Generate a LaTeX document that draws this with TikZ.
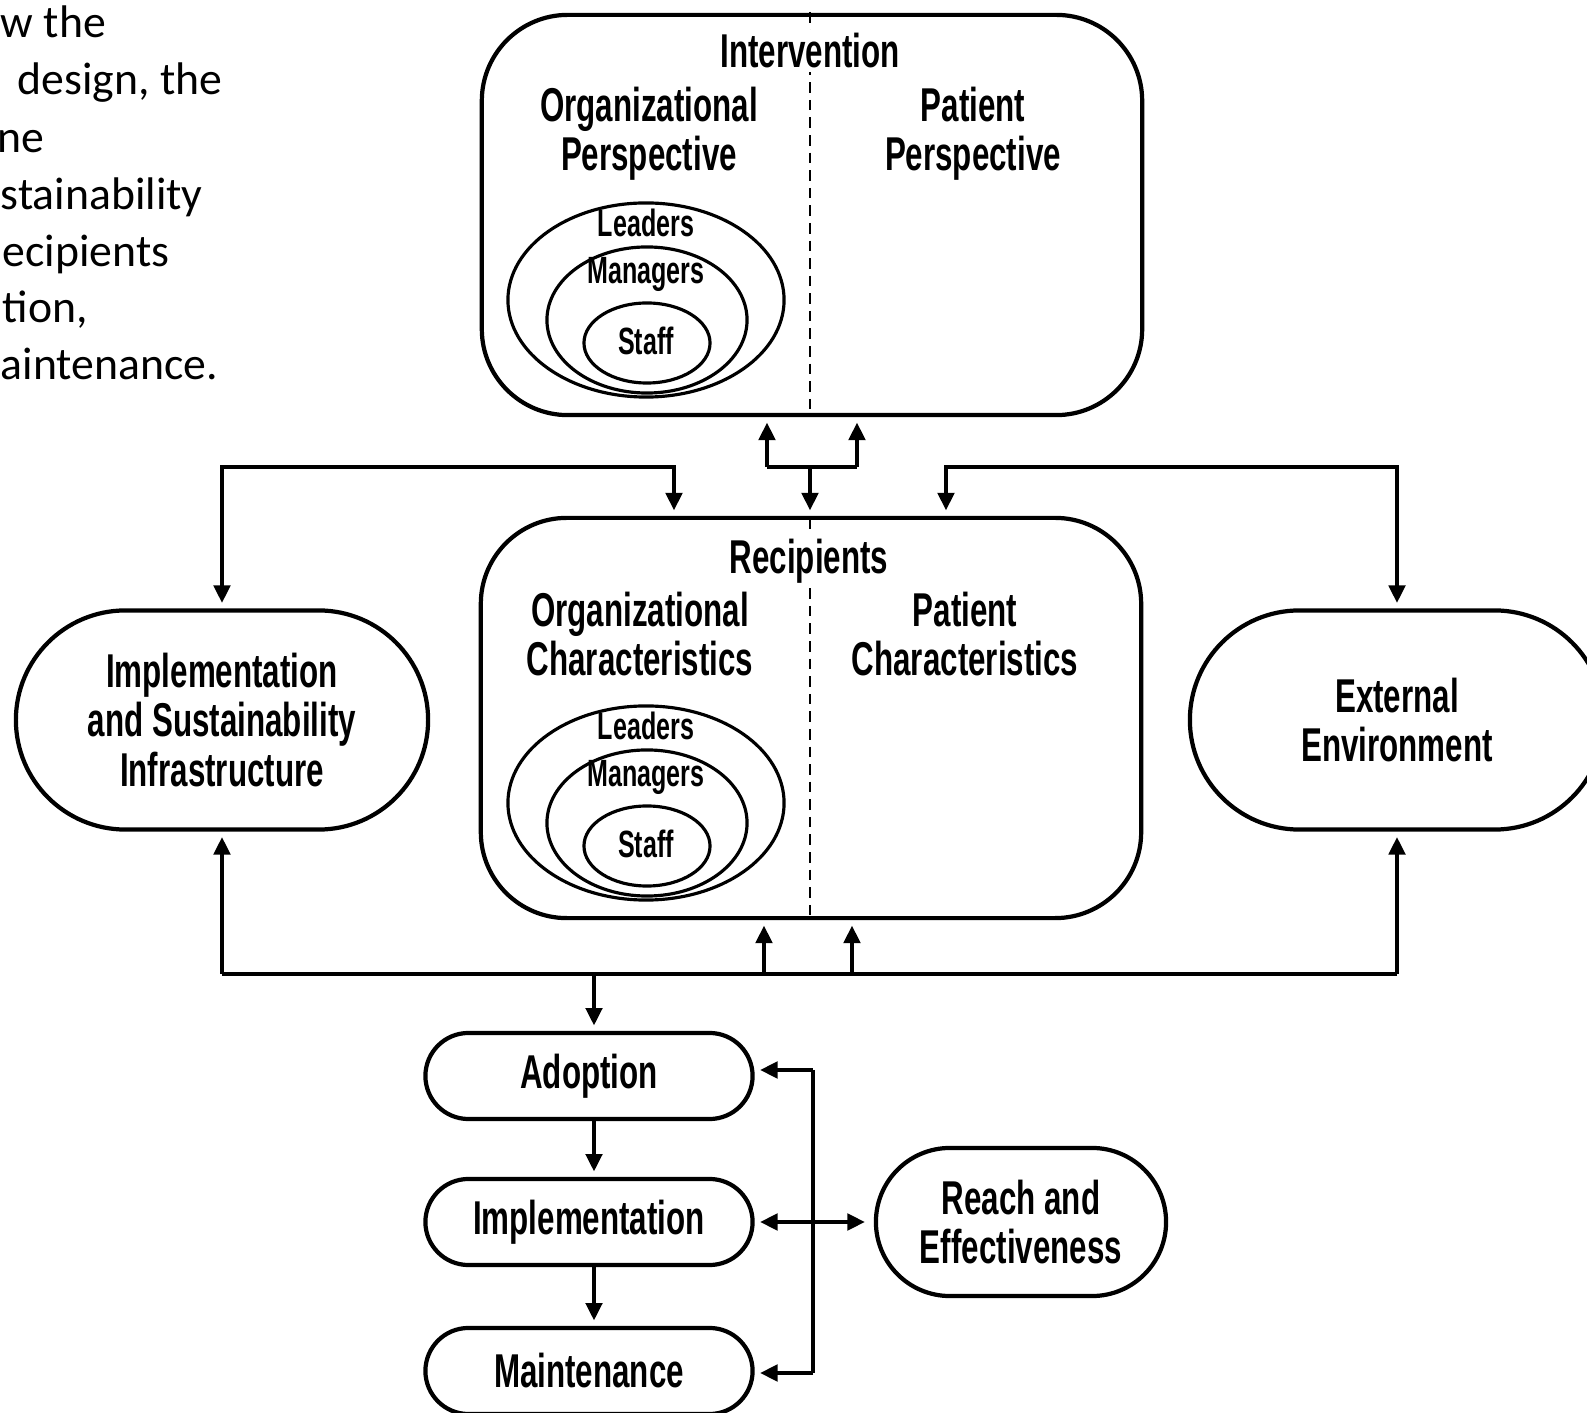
\documentclass[tikz,border=0pt]{standalone}
\usepackage{fontspec}
\newfontfamily\figfont[FakeStretch=0.66]{Liberation Sans}
\newfontfamily\notefont{Carlito}
\usetikzlibrary{shapes.geometric,shapes.misc,arrows.meta}

\newcommand{\bigtxt}{\figfont\bfseries\fontsize{13.5}{14}\selectfont}
\newcommand{\smalltxt}{\figfont\bfseries\fontsize{10.8}{11}\selectfont}

\tikzset{
  panel/.style={draw, line width=1.2pt, rounded corners=0.86cm, minimum width=6.6cm, minimum height=4cm},
  pill/.style={draw, line width=1.2pt, rounded rectangle, inner sep=0pt, align=center, font=\bigtxt},
  ring/.style={draw, ellipse, line width=0.9pt, inner sep=0pt},
  heading/.style={font=\bigtxt, align=center, inner sep=1pt},
  tag/.style={font=\smalltxt, inner sep=0pt},
  divider/.style={line width=0.7pt, dash pattern=on 3pt off 2pt},
  link/.style={line width=1.2pt},
  arr/.style={link, -{Triangle[length=5pt,width=4.6pt]}, shorten >=1.5pt},
  twoway/.style={link, {Triangle[length=5pt,width=4.6pt]}-{Triangle[length=5pt,width=4.6pt]}, shorten >=2.5pt, shorten <=1.5pt},
  note/.style={font=\notefont\fontsize{13}{15}\selectfont, anchor=base west, inner sep=0pt}
}

\begin{document}
\begin{tikzpicture}[x=0.01cm, y=-0.01cm]
\useasboundingbox (0,0) rectangle (1587,1413);
\clip (0,0) rectangle (1587,1413);

% Text cut off at the left
\node[note] (n1) at (0,38) {w the};
\node[note] (n2) at (17,95) {design, the};
\node[note] (n3) at (-3,153) {ne};
\node[note] (n4) at (0,210) {stainability};
\node[note] (n5) at (2,267) {ecipients};
\node[note] (n6) at (2,323) {tion,};
\node[note] (n7) at (0,380) {aintenance.};

% Intervention
\node[panel] (interv) at (812,215) {};
\draw[divider] (810,12) -- (810,415);
\node[heading, fill=white] (intervtitle) at (810,51) {Intervention};
\node[heading] (orgpersp) at (649,134) {Organizational\\Perspective};
\node[heading] (patpersp) at (973,134) {Patient\\Perspective};
\node[ring, minimum width=2.76cm, minimum height=1.94cm] (lead1) at (646,300) {};
\node[ring, minimum width=2cm, minimum height=1.46cm] (mgr1) at (647,320) {};
\node[ring, minimum width=1.26cm, minimum height=0.8cm] (staff1) at (647,343) {};
\node[tag] (leadtag1) at (646,223) {Leaders};
\node[tag] (mgrtag1) at (646,274) {Managers};
\node[tag] (stafftag1) at (646,341) {Staff};

% Recipients
\node[panel] (recip) at (811,718) {};
\draw[divider] (810,518) -- (810,921);
\node[heading, fill=white] (reciptitle) at (809,561) {Recipients};
\node[heading] (orgchar) at (640,634) {Organizational\\Characteristics};
\node[heading] (patchar) at (965,634) {Patient\\Characteristics};
\node[ring, minimum width=2.76cm, minimum height=1.94cm] (lead2) at (646,803) {};
\node[ring, minimum width=2cm, minimum height=1.46cm] (mgr2) at (647,823) {};
\node[ring, minimum width=1.26cm, minimum height=0.8cm] (staff2) at (647,846) {};
\node[tag] (leadtag2) at (646,726) {Leaders};
\node[tag] (mgrtag2) at (646,777) {Managers};
\node[tag] (stafftag2) at (646,844) {Staff};

% Side boxes
\node[pill, minimum width=4.12cm, minimum height=2.19cm] (infra) at (222,720) {Implementation\\and Sustainability\\Infrastructure};
\node[pill, minimum width=4.14cm, minimum height=2.19cm] (extenv) at (1397,720) {External\\Environment};

% RE-AIM boxes
\node[pill, minimum width=3.27cm, minimum height=0.86cm] (adopt) at (589,1076) {Adoption};
\node[pill, minimum width=3.27cm, minimum height=0.86cm] (impl) at (589,1222) {Implementation};
\node[pill, minimum width=3.27cm, minimum height=0.86cm] (maint) at (589,1371) {Maintenance};
\node[pill, minimum width=2.9cm, minimum height=1.48cm] (reach) at (1021,1222) {Reach and\\Effectiveness};

% Intervention <-> Recipients
\coordinate (jmid) at (810,467);
\coordinate (jl) at (767,467);
\coordinate (jr) at (857,467);
\draw[link] (jl) -- (jr);
\draw[arr] (jl) -- (jl |- interv.south);
\draw[arr] (jr) -- (jr |- interv.south);
\draw[arr] (jmid) -- (jmid |- recip.north);

% Upper connectors to the side boxes
\coordinate (ul) at (222,467);
\coordinate (ulin) at (674,467);
\coordinate (ur) at (1397,467);
\coordinate (urin) at (946,467);
\draw[arr] (ulin) -- (ul) -- (infra.north);
\draw[arr] (ul) -- (ulin) -- (ulin |- recip.north);
\draw[arr] (urin) -- (ur) -- (extenv.north);
\draw[arr] (ur) -- (urin) -- (urin |- recip.north);

% Lower connectors
\coordinate (bl) at (222,974);
\coordinate (br) at (1397,974);
\coordinate (bu1) at (764,974);
\coordinate (bu2) at (852,974);
\coordinate (bd) at (594,974);
\draw[link] (bl) -- (br);
\draw[arr] (bl) -- (infra.south);
\draw[arr] (br) -- (extenv.south);
\draw[arr] (bu1) -- (bu1 |- recip.south);
\draw[arr] (bu2) -- (bu2 |- recip.south);
\draw[arr] (bd) -- (bd |- adopt.north);

% RE-AIM chain
\draw[arr] (adopt.south -| bd) -- (impl.north -| bd);
\draw[arr] (impl.south -| bd) -- (maint.north -| bd);
\coordinate (rt) at (813,1070);
\coordinate (rb) at (813,1373);
\draw[link] (rt) -- (rb);
\draw[arr] (rt) -- (rt -| adopt.east);
\draw[arr] (rb) -- (rb -| maint.east);
\draw[twoway] (impl.east) -- (reach.west);

\end{tikzpicture}
\end{document}
